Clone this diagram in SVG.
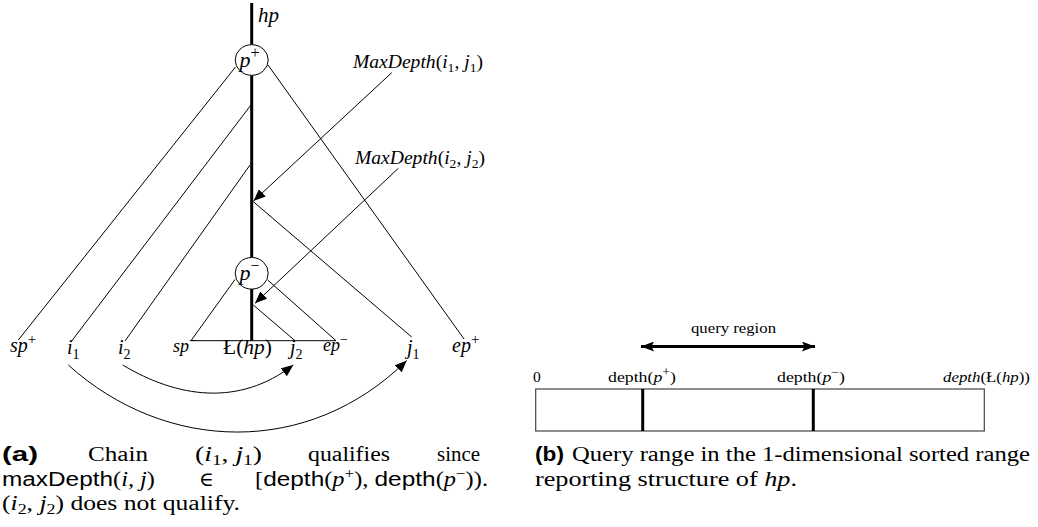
<svg xmlns="http://www.w3.org/2000/svg" width="1038" height="527" viewBox="0 0 1038 527">
<style>
text{font-family:"Liberation Serif","DejaVu Serif",serif;fill:#000}
.it{font-style:italic}
.sans{font-family:"Liberation Sans","DejaVu Sans",sans-serif}
.b{font-weight:bold}
.thin{stroke:#000;stroke-width:1;fill:none}
.thick{stroke:#000;stroke-width:3;fill:none}
.node{fill:#fff;stroke:#000;stroke-width:1}
.lbl{font-size:20px}
.sm{font-size:18px}
.cap{font-size:20px}
.bl{font-size:15.5px}
</style>
<defs>
<marker id="ah" markerUnits="userSpaceOnUse" markerWidth="13" markerHeight="10" refX="12" refY="5" orient="auto">
<path d="M0,0 L12,5 L0,10 z" fill="#000"/>
</marker>
<marker id="ahb" markerUnits="userSpaceOnUse" markerWidth="14" markerHeight="10" refX="13" refY="5" orient="auto-start-reverse">
<path d="M0,0 L13,5 L0,10 L2.5,5 z" fill="#000"/>
</marker>
</defs>

<g id="connectors">
<line class="thick" x1="251.7" y1="3" x2="251.7" y2="44.5"/>
<line class="thick" x1="251.7" y1="75.5" x2="251.7" y2="257.5"/>
<line class="thick" x1="251.7" y1="289" x2="251.7" y2="340.7"/>
<line class="thin" x1="235.5" y1="67" x2="18.3" y2="340"/>
<line class="thin" x1="268" y1="65" x2="464" y2="339"/>
<line class="thin" x1="250.7" y1="105.3" x2="71.7" y2="341"/>
<line class="thin" x1="250" y1="165" x2="125" y2="341"/>
<line class="thin" x1="253.3" y1="201.7" x2="411.7" y2="337"/>
<line class="thin" x1="253.3" y1="305" x2="295" y2="340.7"/>
<line class="thin" x1="235" y1="279.5" x2="191" y2="340.7"/>
<line class="thin" x1="267.7" y1="280" x2="336" y2="340.7"/>
<line class="thin" x1="191" y1="340.7" x2="336" y2="340.7"/>
<line class="thin" x1="391.7" y1="72.7" x2="253.5" y2="201" marker-end="url(#ah)"/>
<line class="thin" x1="398.3" y1="168.3" x2="255" y2="303.3" marker-end="url(#ah)"/>
<path class="thin" d="M68.3,365 C165.5,452.8 308.5,457.5 406.7,360.5" marker-end="url(#ah)"/>
<path class="thin" d="M122.7,365 C177.2,397.7 238.8,407 293.3,365" marker-end="url(#ah)"/>
<line stroke="#000" stroke-width="3" x1="641" y1="346.5" x2="815" y2="346.5" marker-start="url(#ahb)" marker-end="url(#ahb)"/>
</g>

<g id="node-p-plus">
<ellipse class="node" cx="251.7" cy="60" rx="16.5" ry="15.3"/>
<text x="239.5" y="67" font-size="22"><tspan class="it">p</tspan><tspan font-size="16" dy="-9">+</tspan></text>
</g>
<g id="node-p-minus">
<ellipse class="node" cx="251.7" cy="273.3" rx="16.5" ry="15.8"/>
<text x="239.5" y="280" font-size="22"><tspan class="it">p</tspan><tspan font-size="16" dy="-9">−</tspan></text>
</g>

<g id="labels-a">
<text class="it" x="258" y="22" font-size="21">hp</text>
<text class="sm" x="353" y="68" textLength="130" lengthAdjust="spacingAndGlyphs"><tspan class="it">MaxDepth</tspan>(<tspan class="it">i</tspan><tspan font-size="12.5" dy="4">1</tspan><tspan dy="-4">, </tspan><tspan class="it">j</tspan><tspan font-size="12.5" dy="4">1</tspan><tspan dy="-4">)</tspan></text>
<text class="sm" x="355" y="163.5" textLength="130" lengthAdjust="spacingAndGlyphs"><tspan class="it">MaxDepth</tspan>(<tspan class="it">i</tspan><tspan font-size="12.5" dy="4">2</tspan><tspan dy="-4">, </tspan><tspan class="it">j</tspan><tspan font-size="12.5" dy="4">2</tspan><tspan dy="-4">)</tspan></text>
<text class="lbl" x="10" y="352"><tspan class="it">sp</tspan><tspan font-size="15" dy="-8">+</tspan></text>
<text class="lbl" x="67" y="354"><tspan class="it">i</tspan><tspan font-size="14" dy="5">1</tspan></text>
<text class="lbl" x="118" y="354"><tspan class="it">i</tspan><tspan font-size="14" dy="5">2</tspan></text>
<text class="sm" x="173" y="352"><tspan class="it">sp</tspan><tspan font-size="14" dy="-7">−</tspan></text>
<text class="lbl" x="223" y="354" textLength="49" lengthAdjust="spacingAndGlyphs">Ł(<tspan class="it">hp</tspan>)</text>
<text class="lbl" x="290" y="354"><tspan class="it">j</tspan><tspan font-size="14" dy="5">2</tspan></text>
<text class="sm" x="323" y="351"><tspan class="it">ep</tspan><tspan font-size="14" dy="-7">−</tspan></text>
<text class="lbl" x="407" y="354"><tspan class="it">j</tspan><tspan font-size="14" dy="5">1</tspan></text>
<text class="lbl" x="452" y="352"><tspan class="it">ep</tspan><tspan font-size="15" dy="-8">+</tspan></text>
</g>

<g id="caption-a">
<text class="cap sans b" x="2" y="461" textLength="36" lengthAdjust="spacingAndGlyphs">(a)</text>
<text class="cap" x="88" y="461" textLength="60" lengthAdjust="spacingAndGlyphs">Chain</text>
<text class="cap" x="195" y="461" textLength="67" lengthAdjust="spacingAndGlyphs">(<tspan class="it">i</tspan><tspan font-size="14" dy="4">1</tspan><tspan dy="-4">, </tspan><tspan class="it">j</tspan><tspan font-size="14" dy="4">1</tspan><tspan dy="-4">)</tspan></text>
<text class="cap" x="308" y="461" textLength="82" lengthAdjust="spacingAndGlyphs">qualifies</text>
<text class="cap" x="437" y="461" textLength="43" lengthAdjust="spacingAndGlyphs">since</text>
<text class="cap" x="2" y="485.5" textLength="153" lengthAdjust="spacingAndGlyphs"><tspan class="sans">maxDepth</tspan>(<tspan class="it">i, j</tspan>)</text>
<text class="cap" x="199" y="485.5">∈</text>
<text class="cap" x="255" y="485.5" textLength="233" lengthAdjust="spacingAndGlyphs">[<tspan class="sans">depth</tspan>(<tspan class="it">p</tspan><tspan font-size="14" dy="-8">+</tspan><tspan dy="8">), </tspan><tspan class="sans">depth</tspan>(<tspan class="it">p</tspan><tspan font-size="14" dy="-8">−</tspan><tspan dy="8">)).</tspan></text>
<text class="cap" x="2" y="510" textLength="238" lengthAdjust="spacingAndGlyphs">(<tspan class="it">i</tspan><tspan font-size="14" dy="4">2</tspan><tspan dy="-4">, </tspan><tspan class="it">j</tspan><tspan font-size="14" dy="4">2</tspan><tspan dy="-4">) does not qualify.</tspan></text>
</g>

<g id="range-structure">
<rect x="535.7" y="389" width="448.6" height="42" fill="none" stroke="#444" stroke-width="1.2"/>
<line class="thick" x1="642.7" y1="389" x2="642.7" y2="431"/>
<line class="thick" x1="813.3" y1="389" x2="813.3" y2="431"/>
<text class="bl" x="691" y="333" textLength="85" lengthAdjust="spacingAndGlyphs">query region</text>
<text class="bl" x="533" y="382">0</text>
<text class="bl" x="608" y="382" textLength="68" lengthAdjust="spacingAndGlyphs">depth(<tspan class="it">p</tspan><tspan font-size="12" dy="-6">+</tspan><tspan dy="6">)</tspan></text>
<text class="bl" x="777" y="382" textLength="68" lengthAdjust="spacingAndGlyphs">depth(<tspan class="it">p</tspan><tspan font-size="12" dy="-6">−</tspan><tspan dy="6">)</tspan></text>
<text class="bl" x="943" y="382" textLength="87" lengthAdjust="spacingAndGlyphs"><tspan class="it">depth</tspan>(Ł(<tspan class="it">hp</tspan>))</text>
</g>

<g id="caption-b">
<text class="cap sans b" x="535" y="461" textLength="29" lengthAdjust="spacingAndGlyphs">(b)</text>
<text class="cap" x="572" y="461" textLength="458" lengthAdjust="spacingAndGlyphs">Query range in the 1-dimensional sorted range</text>
<text class="cap" x="535" y="485.5" textLength="262" lengthAdjust="spacingAndGlyphs">reporting structure of <tspan class="it">hp</tspan>.</text>
</g>
</svg>
